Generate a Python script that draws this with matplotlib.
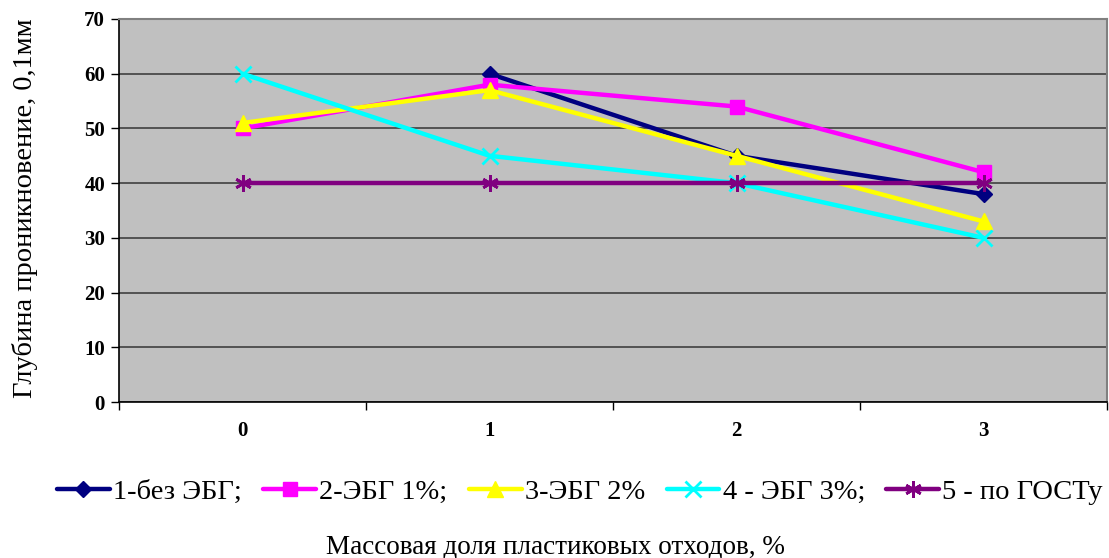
import numpy as np
import matplotlib
matplotlib.use("Agg")
import matplotlib.pyplot as plt
from matplotlib.ticker import MultipleLocator, FixedLocator

categories = ["0", "1", "2", "3"]
s1 = [np.nan, 60, 45, 38]
s2 = [50, 58, 54, 42]
s3 = [51, 57, 45, 33]
s4 = [60, 45, 40, 30]
s5 = [40, 40, 40, 40]
labels = ["1-без ЭБГ;", "2-ЭБГ 1%;", "3-ЭБГ 2%", "4 - ЭБГ 3%;", "5 - по ГОСТу"]
colors = ["#000080", "#FF00FF", "#FFFF00", "#00FFFF", "#800080"]
markers = ["D", "s", "^", "x", (6, 2, 0)]
msizes = [8, 10, 11, 11, 12]

plt.rcParams['font.family'] = ['Liberation Serif', 'DejaVu Serif']

fig = plt.figure(figsize=(11.09, 5.58), dpi=100)
ax = fig.add_axes([119/1109, 1-402/558, (1107-119)/1109, (402-19)/558])
ax.set_facecolor("#C0C0C0")

x = np.arange(len(categories))
series = [s1, s2, s3, s4, s5]
handles = [None]*5
for i in range(5):
    mew = 2 if i >= 3 else 1
    h, = ax.plot(x, series[i], color=colors[i], lw=3.2, marker=markers[i],
                 ms=msizes[i], mew=mew, mec=colors[i], mfc=colors[i],
                 label=labels[i], zorder=3+i, solid_capstyle='round')
    handles[i] = h

ax.set_xlim(-0.5, 3.5)
ax.set_ylim(0, 70)
ax.yaxis.set_major_locator(MultipleLocator(10))
ax.set_xticks(x)
ax.set_xticklabels(categories, fontsize=15, fontweight='bold')
ax.xaxis.set_minor_locator(FixedLocator([-0.5, 0.5, 1.5, 2.5, 3.5]))
ax.tick_params(axis='x', which='major', length=0, pad=14)
ax.tick_params(axis='x', which='minor', length=6, width=1, color='black')
ax.tick_params(axis='y', length=6, width=1, labelsize=15, pad=4)
for t in ax.get_yticklabels():
    t.set_fontweight('bold')
ax.grid(axis='y', color='#404040', lw=1.2, zorder=1)
ax.set_axisbelow(True)
for side in ['top', 'right']:
    ax.spines[side].set_color('#808080')
    ax.spines[side].set_linewidth(1.5)
for side in ['left', 'bottom']:
    ax.spines[side].set_color('black')
    ax.spines[side].set_linewidth(1.2)

fig.text(25/1109, 1-208/558, "Глубина проникновение, 0,1мм", rotation=90,
         ha='center', va='center', fontsize=20.5)
fig.text(555/1109, 1-547/558, "Массовая доля пластиковых отходов, %",
         ha='center', va='center', fontsize=19.5)

leg = fig.legend(handles=handles, labels=labels, loc='center',
                 bbox_to_anchor=(580/1109, 1-492/558), ncol=5, frameon=False,
                 fontsize=20.5, handlelength=1.85, handletextpad=0.12,
                 columnspacing=0.75, borderpad=0)

fig.savefig("out.png", dpi=100)
